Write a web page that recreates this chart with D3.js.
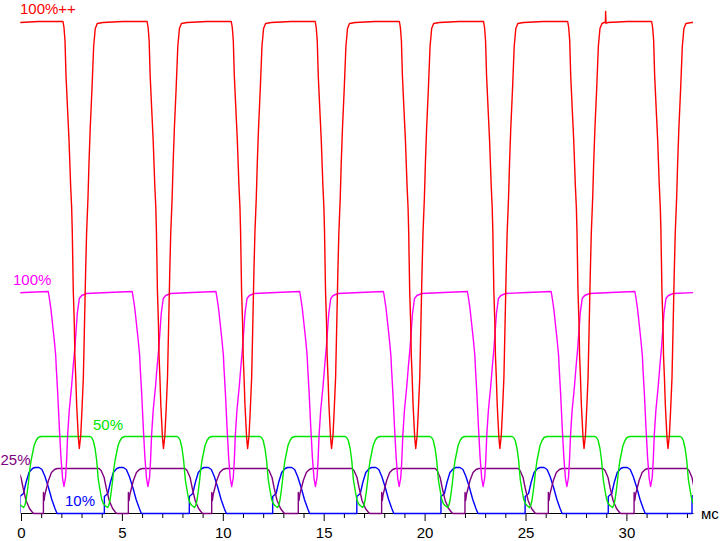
<!DOCTYPE html>
<html><head><meta charset="utf-8">
<script src="https://cdn.jsdelivr.net/npm/d3@7"></script>
<style>html,body{margin:0;padding:0;background:#fff;overflow:hidden}</style>
</head><body>
<svg id="chart" width="720" height="541"></svg>
<script>
// ---------- data (time in ms, level in arbitrary units 0..100) ----------
const timeDomain = [0, 33.3];
const levelDomain = [0, 100];
const tickValues = [0,1,2,3,4,5,6,7,8,9,10,11,12,13,14,15,16,17,18,19,20,21,22,23,24,25,26,27,28,29,30,31,32,33];
const labeledTicks = [0, 5, 10, 15, 20, 25, 30];
const unitLabel = "мс";
const seriesNames = ["100%++", "100%", "50%", "25%", "10%"];

// 100%++ : start time of each dip and one dip shape [dt, level]
const redFall = [-2.09, 2.08, 6.25, 10.42, 14.58, 18.75, 22.92, 27.09, 31.25];
const redShape = [[0,98.4],[0.05,97.2],[0.10,94.6],[0.15,87.6],[0.23,80.6],[0.30,74.6],[0.35,69.0],[0.38,65.6],[0.43,61.2],[0.46,56.6],[0.51,44.6],[0.56,38.2],[0.59,31.6],[0.63,27.6],[0.68,21.6],[0.76,15.2],[0.81,13.0],[0.88,15.6],[0.94,20.6],[1.01,27.2],[1.06,36.6],[1.12,48.0],[1.17,56.0],[1.24,63.2],[1.29,70.2],[1.35,77.0],[1.44,85.2],[1.52,93.4],[1.60,97.0],[1.70,98.0],[1.98,98.2],[2.97,98.4]];
const redGlitch = [[28.96,98.3],[28.97,100.4],[28.99,98.0]];

// 100%
const magentaFall = [-2.80, 1.35, 5.51, 9.66, 13.81, 17.96, 22.12, 26.27, 30.42];
const magentaShape = [[0,44.4],[0.05,43.2],[0.13,41.0],[0.21,38.0],[0.30,34.6],[0.37,31.6],[0.40,29.0],[0.47,24.0],[0.55,17.2],[0.63,11.2],[0.71,7.0],[0.78,5.4],[0.86,7.2],[0.91,10.6],[0.96,15.6],[1.04,20.6],[1.16,25.6],[1.24,29.6],[1.32,33.2],[1.44,40.0],[1.54,43.0],[1.66,43.6],[1.90,44.0],[2.97,44.2]];

// 50%
const greenFall = [-0.74, 3.42, 7.73, 11.84, 16.06, 20.27, 24.33, 28.44, 32.66];
const greenShape = [[0,15.4],[0.08,15.2],[0.16,14.6],[0.25,13.0],[0.33,10.6],[0.41,6.8],[0.50,4.6],[0.58,2.8],[0.66,2.0],[0.74,1.6],[0.87,1.2],[0.93,1.6],[0.99,2.6],[1.06,4.6],[1.12,6.6],[1.17,8.6],[1.24,10.6],[1.34,12.6],[1.39,13.6],[1.49,14.6],[1.59,15.2],[1.73,15.4]];

// 25%
const purpleFall = [-0.25, 3.87, 8.13, 12.19, 16.40, 20.52, 24.63, 28.84, 33.00];
const purpleFallShape = [[0,9.0],[0.10,8.6],[0.25,7.2],[0.35,5.2],[0.50,2.6],[0.67,1.0],[0.84,0.1],[0.90,0]];
const purpleRise = [1.11, 5.32, 9.45, 13.74, 17.87, 22.00, 26.13, 30.38];
const purpleRiseShape = [[0,0],[0.002,4.2],[0.035,2.6],[0.074,3.8],[0.15,5.0],[0.25,6.6],[0.40,8.2],[0.55,8.8],[0.69,9.0]];

// 10%
const blueRise = [-0.05, 4.13, 8.34, 12.47, 16.64, 20.81, 24.98, 29.10, 33.25];
const blueShape = [[0,0],[0.002,3.4],[0.173,4.0],[0.297,6.2],[0.446,8.2],[0.619,9.0],[0.743,9.2],[0.942,9.2],[1.090,8.8],[1.239,7.4],[1.412,5.2],[1.576,2.8],[1.734,1.0],[1.834,0]];

// ---------- build ----------
const place = (starts, shape) => starts.flatMap(s => shape.map(([dt, v]) => [s + dt, v]));
const byT = (a, b) => a[0] - b[0];

const series = [
  {name: seriesNames[4], color: "#0000ff", pts: place(blueRise, blueShape).sort(byT)},
  {name: seriesNames[3], color: "#800080", pts: place(purpleFall, purpleFallShape).concat(place(purpleRise, purpleRiseShape)).sort(byT)},
  {name: seriesNames[2], color: "#00e600", pts: place(greenFall, greenShape).sort(byT)},
  {name: seriesNames[1], color: "#ff00ff", pts: place(magentaFall, magentaShape).sort(byT)},
  {name: seriesNames[0], color: "#ff0000", pts: place(redFall, redShape).concat(redGlitch).sort(byT)}
];

const svg = d3.select("#chart");
const x = d3.scaleLinear().domain(timeDomain).range([21, 693]);
const y = d3.scaleLinear().domain(levelDomain).range([513.5, 13.5]);
const FONT = "'Liberation Sans', Arial, sans-serif";

// axis
const axisG = svg.append("g").attr("transform", "translate(0,513)")
  .call(d3.axisBottom(x).tickValues(tickValues).tickSize(5).tickSizeOuter(0)
    .tickFormat(d => labeledTicks.includes(d) ? d : ""));
axisG.select(".domain").attr("stroke", "#000");
axisG.selectAll(".tick line").attr("stroke", "#000")
  .attr("y2", d => labeledTicks.includes(d) ? 8 : 5);
axisG.selectAll(".tick text")
  .attr("fill", "#000").attr("y", 24.5).attr("dy", 0)
  .style("font-family", FONT).style("font-size", "15px");

svg.append("text").attr("x", 701).attr("y", 519).text(unitLabel)
  .attr("fill", "#000").style("font-family", FONT).style("font-size", "15px");

// clip
svg.append("clipPath").attr("id", "plot").append("rect")
  .attr("x", x(timeDomain[0]) - 0.7).attr("y", 0)
  .attr("width", x(timeDomain[1]) - x(timeDomain[0]) + 0.7).attr("height", 541);

const line = d3.line().x(d => x(d[0])).y(d => y(d[1]));
svg.append("g").attr("clip-path", "url(#plot)")
  .selectAll("path").data(series).join("path")
  .attr("d", d => line(d.pts))
  .attr("fill", "none").attr("stroke", d => d.color).attr("stroke-width", 1.4)
  .attr("stroke-linejoin", "round");

// series labels
const labelPos = {"100%++": [20, 13.5], "100%": [13, 285], "50%": [93, 430], "25%": [0.5, 465], "10%": [65, 506]};
svg.append("g").selectAll("text").data(series).join("text")
  .attr("x", d => labelPos[d.name][0]).attr("y", d => labelPos[d.name][1])
  .attr("fill", d => d.color).text(d => d.name)
  .style("font-family", FONT).style("font-size", "15px");
</script>
</body></html>
